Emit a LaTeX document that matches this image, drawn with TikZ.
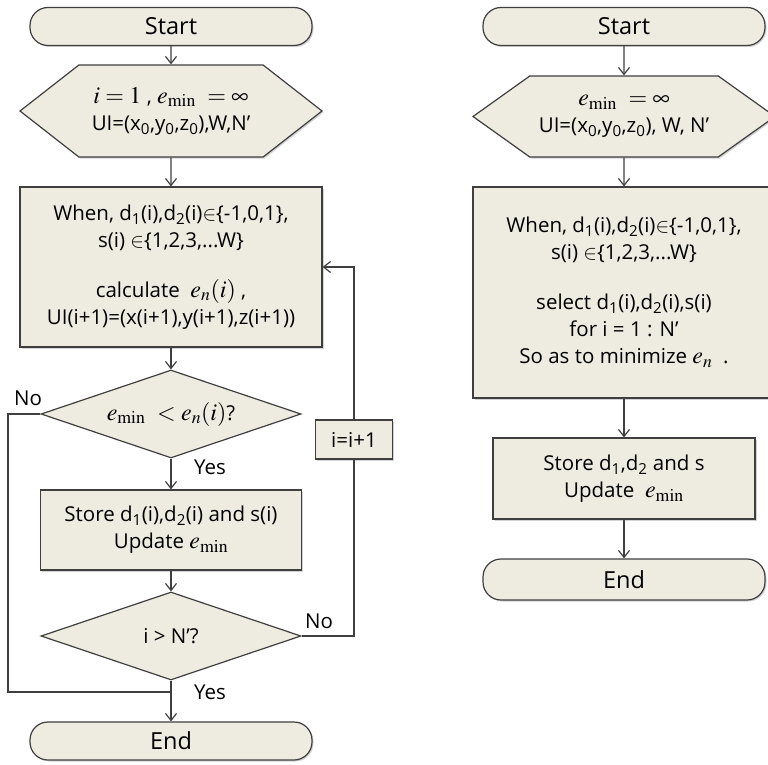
\documentclass[tikz,border=0pt]{standalone}
\usepackage{mathptmx}
\usepackage[no-math]{fontspec}
\setmainfont{Open Sans}
\usepackage{xcolor}
\usepackage{tikz}
\usetikzlibrary{arrows.meta}
\usetikzlibrary{shapes.geometric, shapes.symbols, shadows}

\definecolor{chartfill}{HTML}{EEECE1}
\definecolor{chartline}{HTML}{3F3F3F}
% math of the chart is set a little larger than its text
\newcommand{\bigmath}[1]{{\fontsize{24}{27}\selectfont$#1$}}

\begin{document}
\begin{tikzpicture}[x=1pt, y=-1pt, >={Straight Barb[length=7pt, width=11pt]}, line width=1.2pt,
      every node/.style={font=\fontsize{20.5}{27}\selectfont, align=center, inner sep=2pt},
      chart/.style={draw=chartline, fill=chartfill},
      shade/.style={drop shadow={shadow xshift=1.5pt, shadow yshift=-1.5pt, opacity=.35}},
      terminal/.style={chart, shade, rectangle, rounded corners=18pt, minimum width=282pt, minimum height=38pt, font=\fontsize{23.5}{26}\selectfont},
      prep/.style={chart, shade, signal, signal to=east and west, minimum width=302pt},
      process/.style={chart, shade, rectangle},
      decision/.style={chart, diamond, aspect=2.95, minimum width=260pt, minimum height=88pt}]
      % the page, in pixels of the original figure
      \useasboundingbox (0, 0) rectangle (768, 765);
      \def\lx{171}
      \def\rx{624}

      % left chart: search step by step
      \node [terminal] (start1) at (\lx, 26.5) {Start};
      \node [prep, minimum height=92pt, signal pointer angle=76] (init1) at (\lx, 111)
            {\bigmath{i=1} , \bigmath{e_{\min}\ =\infty}\\ UI=(x\textsubscript{0},y\textsubscript{0},z\textsubscript{0}),W,N’};
      \node [process, minimum width=302pt, minimum height=160pt] (calc1) at (\lx, 267)
            {When, d\textsubscript{1}(i),d\textsubscript{2}(i)$\in$\{-1,0,1\},\\ s(i) $\in$\{1,2,3,...W\}\\[23pt]
             calculate \ \bigmath{e_n(i)} ,\\ UI(i+1)=(x(i+1),y(i+1),z(i+1))};
      \node [decision] (cond1) at (\lx, 414) {\bigmath{e_{\min}\ < e_n(i)}?};
      \node [process, minimum width=261pt, minimum height=80pt] (store1) at (\lx, 530)
            {Store d\textsubscript{1}(i),d\textsubscript{2}(i) and s(i)\\ Update \bigmath{e_{\min}}};
      \node [decision] (cond2) at (\lx, 636) {i > N’?};
      \node [terminal] (end1) at (\lx, 741) {End};
      \node [process, minimum width=77pt, minimum height=39pt] (incr) at (354, 439.5) {i=i+1};

      \node (no1) at (28, 398) {No};
      \node (yes1) at (210, 467) {Yes};
      \node (no2) at (319, 621) {No};
      \node (yes2) at (210, 692) {Yes};
      \coordinate (nocorner) at (8, 692);
      \coordinate (join) at (\lx, 692);

      \draw [->, chartline] (start1) -- (init1);
      \draw [->, chartline] (init1) -- (calc1);
      \draw [->, chartline] (calc1) -- (cond1);
      \draw [->, chartline] (cond1) -- (store1);
      \draw [->, chartline] (store1) -- (cond2);
      \draw [->, chartline] (cond2) -- (end1);
      \draw [chartline] (cond1.west) -| (nocorner) -- (join);
      \draw [chartline] (cond2.east) -| (incr.south);
      \draw [->, chartline] (incr.north) |- (calc1.east);

      % right chart: all at once
      \node [terminal] (start2) at (\rx, 26.5) {Start};
      \node [prep, minimum height=81pt, signal pointer angle=71] (init2) at (\rx, 116.5)
            {\bigmath{e_{\min}\ =\infty}\\ UI=(x\textsubscript{0},y\textsubscript{0},z\textsubscript{0}), W, N’};
      \node [process, minimum width=302pt, minimum height=211pt] (calc2) at (\rx, 292.5)
            {When, d\textsubscript{1}(i),d\textsubscript{2}(i)$\in$\{-1,0,1\},\\ s(i) $\in$\{1,2,3,...W\}\\[23pt]
             select d\textsubscript{1}(i),d\textsubscript{2}(i),s(i)\\ for i = 1 : N’\\ So as to minimize \bigmath{e_n} \ .};
      \node [process, minimum width=262pt, minimum height=81pt] (store2) at (\rx, 478.5)
            {Store d\textsubscript{1},d\textsubscript{2} and s\\ Update \ \bigmath{e_{\min}}};
      \node [terminal, minimum height=41pt] (end2) at (\rx, 579.5) {End};

      \draw [->, chartline] (start2) -- (init2);
      \draw [->, chartline] (init2) -- (calc2);
      \draw [->, chartline] (calc2) -- (store2);
      \draw [->, chartline] (store2) -- (end2);
\end{tikzpicture}
\end{document}
